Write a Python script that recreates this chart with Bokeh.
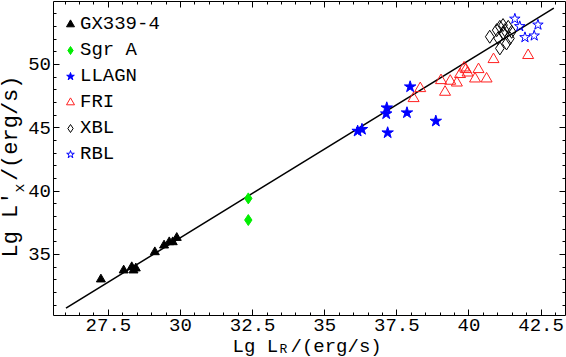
from bokeh.plotting import figure
from bokeh.models import (Range1d, LinearAxis, FixedTicker, Label, Legend,
                          LegendItem, CustomJSTickFormatter)
from bokeh.embed import file_html
from bokeh.resources import INLINE

# ---------------- data ----------------
gx_x = [27.24, 28.03, 28.31, 28.37, 28.45, 29.11, 29.43, 29.61, 29.73, 29.87]
gx_y = [33.03, 33.74, 34.00, 33.74, 33.90, 35.18, 35.71, 35.97, 35.97, 36.31]

sgr_x = [32.35, 32.35]
sgr_y = [39.42, 37.71]

llagn_x = [36.14, 36.29, 37.15, 37.13, 37.18, 37.85, 37.96, 38.85]
llagn_y = [44.73, 44.87, 46.57, 46.10, 44.60, 46.18, 48.23, 45.52]

fri_x = [38.31, 38.08, 39.03, 39.17, 39.35, 39.58, 39.69, 39.83, 39.89, 39.95,
         40.21, 40.33, 40.61, 40.85, 42.05]
fri_y = [48.10, 47.31, 48.73, 47.81, 48.68, 48.54, 49.21, 49.73, 49.60, 49.33,
         48.86, 49.60, 48.86, 50.39, 50.71]

xbl_x = [40.72, 40.96, 41.07, 41.18, 41.36, 41.01, 41.18, 41.07, 41.30, 41.42,
         41.24, 41.48]
xbl_y = [52.18, 52.70, 52.96, 53.10, 52.96, 52.07, 52.47, 51.26, 51.65, 52.05,
         52.70, 52.57]

rbl_x = [41.59, 41.76, 42.39, 41.94, 42.26]
rbl_y = [53.59, 53.00, 53.12, 52.13, 52.26]

fit_x = [26.03, 42.94]
fit_y = [30.76, 54.44]

series_names = ["GX339-4", "Sgr A", "LLAGN", "FRI", "XBL", "RBL"]

# plot box (axis extents) and tick marks
x_lo, x_hi = 25.58, 43.35
y_lo, y_hi = 30.21, 55.0
x_ticks = [27.5, 30, 32.5, 35, 37.5, 40, 42.5]
x_tick_labels = ["27.5", "30", "32.5", "35", "37.5", "40", "42.5"]
x_minor_ticks = [26, 26.5, 27, 28, 28.5, 29, 29.5, 30.5, 31, 31.5, 32, 33,
                 33.5, 34, 34.5, 35.5, 36, 36.5, 37, 38, 38.5, 39, 39.5, 40.5,
                 41, 41.5, 42, 43]
y_ticks = [35, 40, 45, 50]
y_tick_labels = ["35", "40", "45", "50"]
y_minor_ticks = [31, 32, 33, 34, 36, 37, 38, 39, 41, 42, 43, 44, 46, 47, 48,
                 49, 51, 52, 53, 54]

FONT = "Liberation Mono"

# ---------------- figure (frame = whole canvas, axes at fixed locations) ----
p = figure(width=566, height=357, output_backend="svg", toolbar_location=None,
           x_range=Range1d(23.76, 43.38), y_range=Range1d(26.86, 55.04),
           x_axis_type=None, y_axis_type=None,
           min_border_left=0, min_border_right=0, min_border_top=0,
           min_border_bottom=0)
p.xgrid.visible = False
p.ygrid.visible = False
p.outline_line_color = None
p.background_fill_color = "white"
p.border_fill_color = "white"

xt = FixedTicker(ticks=x_ticks, minor_ticks=x_minor_ticks)
yt = FixedTicker(ticks=y_ticks, minor_ticks=y_minor_ticks)
blank = CustomJSTickFormatter(code="return ''")


def make_axis(ticker, loc, bounds, labels, standoff):
    ax = LinearAxis(ticker=ticker, fixed_location=loc, bounds=bounds)
    ax.axis_line_color = "black"
    ax.axis_line_width = 1
    ax.major_tick_line_color = "black"
    ax.minor_tick_line_color = "black"
    ax.major_tick_out = 0
    ax.minor_tick_out = 0
    ax.major_tick_in = 6
    ax.minor_tick_in = 3
    ax.major_label_text_font = FONT
    ax.major_label_text_font_size = "19px"
    ax.major_label_text_color = "black"
    ax.major_label_standoff = standoff
    if labels is None:
        ax.formatter = blank
    else:
        ax.major_label_overrides = labels
    return ax


p.add_layout(make_axis(xt, y_lo, (x_lo, x_hi),
                       {t: s for t, s in zip(x_ticks, x_tick_labels)}, 4),
             "below")
p.add_layout(make_axis(yt, x_lo, (y_lo, y_hi),
                       {t: s for t, s in zip(y_ticks, y_tick_labels)}, 2),
             "left")
p.add_layout(make_axis(xt, y_hi, (x_lo, x_hi), None, 0), "above")
p.add_layout(make_axis(yt, x_hi, (y_lo, y_hi), None, 0), "right")

# ---------------- glyphs ----------------
p.line(fit_x, fit_y, line_color="black", line_width=1.5)

r_gx = p.scatter(gx_x, gx_y, marker="triangle", size=9, fill_color="black",
                 line_color="black")
r_sgr = p.scatter(sgr_x, sgr_y, marker="diamond", size=11, fill_color="#00ee00",
                  line_color="#00ee00")
r_ll = p.scatter(llagn_x, llagn_y, marker="star", size=12, fill_color="blue",
                 line_color="blue")
r_fri = p.scatter(fri_x, fri_y, marker="triangle", size=11, fill_color=None,
                  line_color="#ff2020", line_width=1)
r_xbl = p.scatter(xbl_x, xbl_y, marker="diamond", size=13, fill_color=None,
                  line_color="black", line_width=1)
r_rbl = p.scatter(rbl_x, rbl_y, marker="star", size=11, fill_color=None,
                  line_color="blue", line_width=1)

renderers = [r_gx, r_sgr, r_ll, r_fri, r_xbl, r_rbl]
legend = Legend(items=[LegendItem(label=n, renderers=[r])
                       for n, r in zip(series_names, renderers)],
                location=(60, 192), orientation="vertical",
                border_line_alpha=0, background_fill_alpha=0,
                padding=0, margin=0, spacing=4,
                glyph_width=20, glyph_height=22, label_height=22,
                label_standoff=0,
                label_text_font=FONT, label_text_font_size="19px",
                label_text_color="black")
p.add_layout(legend, "center")


# ---------------- axis titles ----------------
def lab(text, x, y, size, align="left", angle=0):
    p.add_layout(Label(x=x, y=y, x_units="screen", y_units="screen",
                       text=text, text_font=FONT, text_font_size=size,
                       text_align=align, text_baseline="middle",
                       angle=angle, angle_units="deg", text_color="black"))


# x axis title: Lg L_R/(erg/s)
lab("Lg L", 232, 11, "19px")
lab("R", 279, 8, "13px")
lab("/(erg/s)", 290, 11, "19px")

# y axis title: Lg L'_x/(erg/s)  (rotated)
lab("Lg L\u2032", 11, 100, "22px", angle=90)
lab("x", 20, 165, "15px", angle=90)
lab("/(erg/s)", 11, 282, "22px", align="right", angle=90)

open("out.html", "w").write(file_html(p, INLINE))
